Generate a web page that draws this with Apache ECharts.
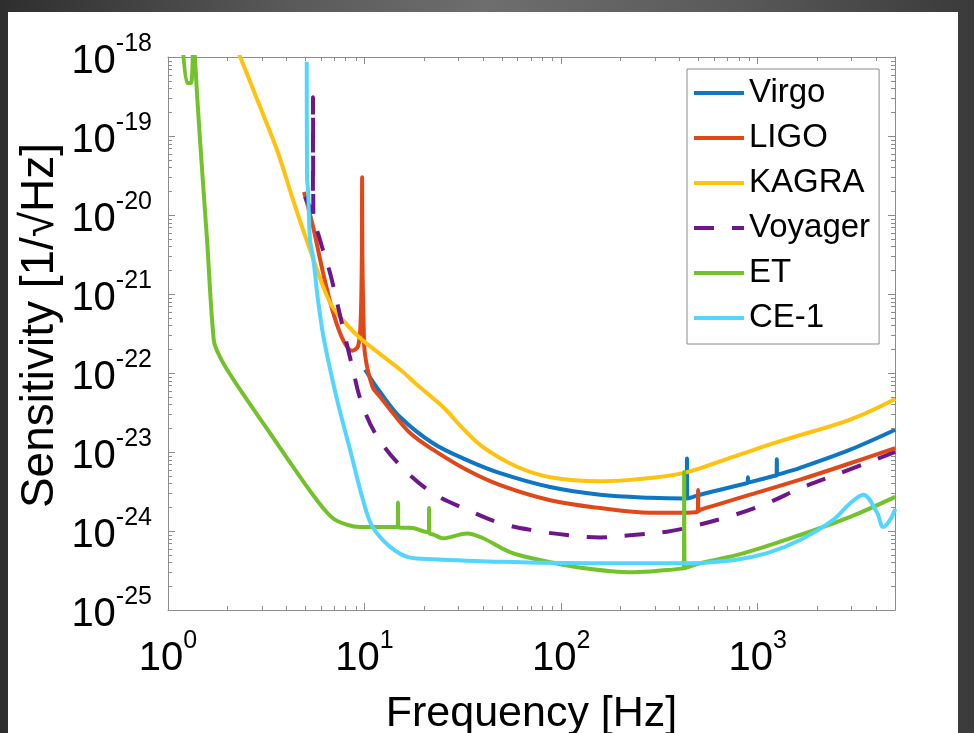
<!DOCTYPE html>
<html><head><meta charset="utf-8">
<script src="https://cdn.jsdelivr.net/npm/echarts@6/dist/echarts.min.js"></script>
<style>
html,body{margin:0;padding:0;width:974px;height:733px;overflow:hidden;background:#3c3c3c;}
#frame{position:absolute;left:0;top:0;width:974px;height:733px;background:linear-gradient(to right,#2e2e2e 0%,#5a5a5a 30%,#6e6e6e 50%,#5a5a5a 75%,#3a3a3a 100%);}
#paper{position:absolute;left:8px;top:12px;width:950px;height:721px;background:#fff;}
#chart{position:absolute;left:0;top:0;width:974px;height:733px;}
</style></head>
<body><div id="frame"></div><div id="paper"></div><div id="chart"></div>
<script>
// ---- data (frequency Hz, sensitivity 1/sqrt(Hz)) ----
const seriesNames = ['Virgo', 'LIGO', 'KAGRA', 'Voyager', 'ET', 'CE-1'];

const virgo = [
  [10.06,1.10e-22],[12.0,5.75e-23],[15.2,2.75e-23],[22.3,1.29e-23],[33.2,7.9e-24],[49,5.4e-24],
  [88,3.6e-24],[158,2.88e-24],[284,2.63e-24],[425,2.57e-24],[435,2.58e-24],[437,8.3e-24],[439,2.6e-24],
  [450,2.62e-24],[510,2.88e-24],[700,3.5e-24],[870,4.0e-24],[890,4.07e-24],[893,4.8e-24],[896,4.1e-24],
  [915,4.15e-24],[1220,5.0e-24],[1249,5.1e-24],[1252,8.1e-24],[1255,5.15e-24],[1290,5.25e-24],
  [1645,6.3e-24],[2958,1.07e-23],[5012,1.91e-23]
];
const ligo = [
  [4.92,1.95e-20],[5.47,7.1e-21],[6.15,1.86e-21],[6.91,5.9e-22],[7.77,2.63e-22],[8.64,1.91e-22],
  [9.27,2.19e-22],[9.55,4.5e-22],[9.68,2.5e-21],[9.72,3.0e-20],[9.76,2.5e-21],[9.9,4.0e-22],
  [10.06,1.70e-22],[11.0,6.6e-23],[12.0,5.0e-23],[13.96,3.09e-23],[17.05,1.74e-23],[22.3,1.07e-23],
  [33.2,5.9e-24],[49,3.8e-24],[88,2.45e-24],[158,1.95e-24],[284,1.70e-24],[418,1.70e-24],
  [485,1.73e-24],[496,1.74e-24],[498,3.3e-24],[500,1.78e-24],[510,1.85e-24],[600,2.1e-24],
  [916,2.88e-24],[1645,4.47e-24],[2958,7.2e-24],[5012,1.12e-23]
];
const kagra = [
  [2.07,2.1e-18],[2.94,2.34e-19],[3.59,6.6e-20],[4.33,1.55e-20],[5.28,3.63e-21],[6.67,7.8e-22],
  [8.15,4.07e-22],[9.71,2.63e-22],[15.2,1.10e-22],[18.5,7.1e-23],[22.3,4.8e-23],
  [26,3.4e-23],[31,2.1e-23],[40.1,1.15e-23],[59.7,6.5e-24],[88,4.8e-24],[158,4.27e-24],
  [232,4.47e-24],[418,5.4e-24],[750,8.7e-24],[1349,1.41e-23],[2958,2.57e-23],[5012,4.68e-23]
];
const voyager = [
  [4.98,1.70e-20],[5.28,1.26e-20],[5.45,1.1e-20],[5.47,3.1e-19],[5.49,1.07e-20],[5.94,4.8e-21],
  [6.67,1.86e-21],[7.33,6.9e-22],[8.15,2.24e-22],[8.74,1.10e-22],[9.49,4.8e-23],[11.3,1.74e-23],
  [15.3,6.6e-24],[22.3,3.0e-24],[33.2,1.86e-24],[49,1.26e-24],[72,1.02e-24],[107,8.9e-25],
  [158,8.3e-25],[232,8.9e-25],[346,9.8e-25],[438,1.10e-24],[750,1.58e-24],[1117,2.24e-24],
  [1645,3.47e-24],[2630,5.4e-24],[5012,1.0e-23]
];
const et = [
  [1.16,5.0e-18],[1.25,4.7e-19],[1.31,4.7e-19],[1.35,3.0e-18],[1.37,1.0e-18],[1.455,8.9e-20],
  [1.58,4.8e-21],[1.71,2.6e-22],[1.80,1.78e-22],[2.0,1.10e-22],[2.52,4.6e-23],[3.30,1.74e-23],
  [4.33,6.5e-24],[5.73,2.45e-24],[6.91,1.45e-24],[8.15,1.20e-24],[9.49,1.12e-24],[13.96,1.12e-24],
  [14.74,1.12e-24],[14.8,2.3e-24],[14.86,1.11e-24],[15.5,1.1e-24],[17.05,1.10e-24],[20.3,9.8e-25],
  [21.24,9.7e-25],[21.3,1.95e-24],[21.36,9.5e-25],[22.5,9.0e-25],[25.1,8.1e-25],[33.2,9.3e-25],
  [40.1,8.1e-25],[55,5.4e-25],[78,4.3e-25],[129,3.4e-25],[232,3.0e-25],[346,3.2e-25],[410,3.35e-25],
  [421.5,3.4e-25],[423,5.6e-24],[424.5,3.4e-25],[435,3.45e-25],[509,3.9e-25],[843,5.2e-25],
  [1645,8.9e-25],[2958,1.51e-24],[5012,2.7e-24]
];
const ce1 = [
  [5.08,8.7e-19],[5.10,2.8e-20],[5.16,2.1e-20],[5.28,4.8e-21],[5.47,2.95e-21],[5.80,8.3e-22],
  [6.22,2.63e-22],[7.25,4.57e-23],[8.44,1.07e-23],[9.83,2.45e-24],[11.0,1.12e-24],[13.5,6.3e-25],
  [17.05,4.6e-25],[22.3,4.4e-25],[49,4.07e-25],[158,3.9e-25],[418,3.9e-25],[750,4.27e-25],
  [1117,5.25e-25],[1645,7.7e-25],[2423,1.38e-24],[2958,2.24e-24],[3444,2.88e-24],[4057,1.70e-24],
  [4352,1.12e-24],[4721,1.38e-24],[5012,1.9e-24]
];

// axis ranges and minor tick positions
const xRange = [1, 5000];
const yRange = [0.99999e-25, 1e-18];
const xMinorTicks = [2,3,4,5,6,7,8,9,20,30,40,50,60,70,80,90,200,300,400,500,600,700,800,900,2000,3000,4000];
const yMinorTicks = [
  2e-25,3e-25,4e-25,5e-25,6e-25,7e-25,8e-25,9e-25,
  2e-24,3e-24,4e-24,5e-24,6e-24,7e-24,8e-24,9e-24,
  2e-23,3e-23,4e-23,5e-23,6e-23,7e-23,8e-23,9e-23,
  2e-22,3e-22,4e-22,5e-22,6e-22,7e-22,8e-22,9e-22,
  2e-21,3e-21,4e-21,5e-21,6e-21,7e-21,8e-21,9e-21,
  2e-20,3e-20,4e-20,5e-20,6e-20,7e-20,8e-20,9e-20,
  2e-19,3e-19,4e-19,5e-19,6e-19,7e-19,8e-19,9e-19
];

const colors = {Virgo:'#0f76c4', LIGO:'#e0481a', KAGRA:'#ffc20f', Voyager:'#6e168c', ET:'#74c22b', 'CE-1':'#52d6ff'};
const seriesData = {Virgo:virgo, LIGO:ligo, KAGRA:kagra, Voyager:voyager, ET:et, 'CE-1':ce1};

const FONT = '"Liberation Sans", Arial, Helvetica, sans-serif';
const AX = '#8c8c8c';

function powLabel(v){
  const e = Math.log10(v); const n = Math.round(e);
  if (Math.abs(e - n) > 1e-4) return '';
  return '{b|10}{s|' + n + '}';
}
const rich = {
  b: {fontSize:40, lineHeight:60, fontFamily:FONT, color:'#000', verticalAlign:'middle'},
  s: {fontSize:25, lineHeight:30, fontFamily:FONT, color:'#000', verticalAlign:'top'}
};

function axisBase(extra){
  return Object.assign({
    type:'log', logBase:10,
    axisLine:{show:true, onZero:false, lineStyle:{color:AX, width:1}},
    axisTick:{show:true, inside:true, length:7, lineStyle:{color:AX, width:1}},
    splitLine:{show:false}, minorTick:{show:false}, minorSplitLine:{show:false}
  }, extra);
}

const chart = echarts.init(document.getElementById('chart'), null, {renderer:'canvas'});

const lineSeries = seriesNames.map(name => ({
  name, type:'line', data: seriesData[name], showSymbol:false, symbol:'none',
  color: colors[name], animation:false, z:2, smooth:0.35,
  lineStyle:{width:4, color:colors[name], type: name === 'Voyager' ? [20,18] : 'solid', cap:'butt', join:'round'},
  emphasis:{disabled:true}
}));

const minorX = {
  type:'custom', silent:true, z:6, animation:false,
  data: xMinorTicks.map(v => [v, 1e-25]),
  renderItem(params, api){
    const cs = params.coordSys;
    const x = Math.round(api.coord([api.value(0), 1e-25])[0]) + 0.5;
    const yb = cs.y + cs.height, yt = cs.y;
    return {type:'group', children:[
      {type:'line', shape:{x1:x, y1:yb, x2:x, y2:yb-4}, style:{stroke:AX, lineWidth:1}},
      {type:'line', shape:{x1:x, y1:yt, x2:x, y2:yt+4}, style:{stroke:AX, lineWidth:1}}
    ]};
  }
};
const minorY = {
  type:'custom', silent:true, z:6, animation:false,
  data: yMinorTicks.map(v => [xRange[0], v]),
  renderItem(params, api){
    const cs = params.coordSys;
    const y = Math.round(api.coord([xRange[0], api.value(1)])[1]) + 0.5;
    const xl = cs.x, xr = cs.x + cs.width;
    return {type:'group', children:[
      {type:'line', shape:{x1:xl, y1:y, x2:xl+4, y2:y}, style:{stroke:AX, lineWidth:1}},
      {type:'line', shape:{x1:xr, y1:y, x2:xr-4, y2:y}, style:{stroke:AX, lineWidth:1}}
    ]};
  }
};

chart.setOption({
  animation:false,
  backgroundColor:'transparent',
  grid:{left:168, right:79, top:57, bottom:123, outerBoundsMode:'none'},
  legend:{
    orient:'vertical', left:687, top:69, data:seriesNames, selectedMode:false,
    itemWidth:50, itemHeight:20, itemGap:9, padding:[6,9,8,5],
    backgroundColor:'#fff', borderColor:'#8a8a8a', borderWidth:1, borderRadius:0,
    textStyle:{fontSize:33, lineHeight:36, fontFamily:FONT, color:'#000'},
    lineStyle:{width:4},
    itemStyle:{opacity:0, borderWidth:0}
  },
  xAxis:[
    axisBase({min:xRange[0], max:xRange[1], position:'bottom',
      axisLabel:{formatter:powLabel, rich, margin:19, showMinLabel:true, showMaxLabel:false},
      name:'Frequency [Hz]', nameLocation:'middle', nameGap:83, nameMoveOverlap:false,
      nameTextStyle:{fontSize:43, fontFamily:FONT, color:'#000'}}),
    axisBase({min:xRange[0], max:xRange[1], position:'top', axisLabel:{show:false}})
  ],
  yAxis:[
    axisBase({min:yRange[0], max:yRange[1], position:'left',
      axisLabel:{formatter:powLabel, rich, margin:16, padding:[10,0,0,0], showMinLabel:true, showMaxLabel:true},
      name:'Sensitivity [1/\u221AHz]', nameLocation:'middle', nameGap:105, nameMoveOverlap:false,
      nameTextStyle:{fontSize:46, fontFamily:FONT, color:'#000', padding:[0,0,0,16]}}),
    axisBase({min:yRange[0], max:yRange[1], position:'right', axisLabel:{show:false}})
  ],
  series: lineSeries.concat([minorX, minorY])
});
</script></body></html>
